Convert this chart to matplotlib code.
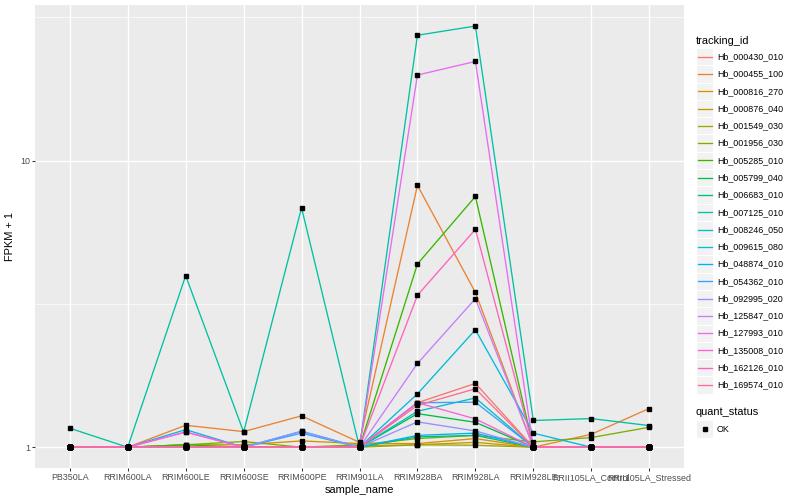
import numpy as np
import matplotlib
matplotlib.use('Agg')
import matplotlib.pyplot as plt
from matplotlib.patches import Rectangle

plt.rcParams['font.family'] = ['Liberation Sans', 'DejaVu Sans']

samples = ['PB350LA', 'RRIM600LA', 'RRIM600LE', 'RRIM600SE', 'RRIM600PE', 'RRIM901LA',
           'RRIM928BA', 'RRIM928LA', 'RRIM928LE', 'RRII105LA_Control', 'RRII105LA_Stressed']

genes = ['Hb_000430_010', 'Hb_000455_100', 'Hb_000816_270', 'Hb_000876_040', 'Hb_001549_030',
         'Hb_001956_030', 'Hb_005285_010', 'Hb_005799_040', 'Hb_006683_010', 'Hb_007125_010',
         'Hb_008246_050', 'Hb_009615_080', 'Hb_048874_010', 'Hb_054362_010', 'Hb_092995_020',
         'Hb_125847_010', 'Hb_127993_010', 'Hb_135008_010', 'Hb_162126_010', 'Hb_169574_010']

# FPKM + 1 per gene, one value per sample
fpkm = [
    [1, 1, 1, 1, 1, 1.0, 1.43, 1.67, 1, 1, 1],
    [1, 1, 1.193, 1.134, 1.287, 1.04, 8.2, 3.47, 1, 1.11, 1.365],
    [1, 1, 1.02, 1.02, 1.052, 1.03, 1.03, 1.072, 1, 1, 1],
    [1, 1, 1, 1, 1, 1.01, 1.02, 1.04, 1, 1, 1],
    [1, 1, 1, 1, 1, 1, 1.02, 1.016, 1, 1, 1],
    [1, 1, 1.02, 1.047, 1, 1.02, 1.072, 1.10, 1.044, 1.081, 1.174],
    [1, 1, 1.02, 1, 1, 1, 4.36, 7.5, 1, 1, 1],
    [1, 1, 1, 1, 1, 1, 1.31, 1.222, 1, 1, 1],
    [1, 1, 1, 1, 1, 1, 1.087, 1.10, 1, 1, 1],
    [1.165, 1, 3.97, 1.13, 6.85, 1, 27.4, 29.5, 1.24, 1.259, 1.19],
    [1, 1, 1, 1, 1, 1, 1.335, 1.486, 1, 1, 1],
    [1, 1, 1.152, 1, 1.137, 1, 1.535, 2.57, 1.12, 1, 1],
    [1, 1, 1, 1, 1, 1, 1.10, 1.12, 1, 1, 1],
    [1, 1, 1, 1, 1.12, 1, 1.43, 1.436, 1, 1, 1],
    [1, 1, 1, 1, 1.137, 1, 1.226, 1.14, 1, 1, 1],
    [1, 1, 1, 1, 1, 1, 1.96, 3.30, 1, 1, 1],
    [1, 1, 1.13, 1, 1, 1, 19.9, 22.2, 1, 1, 1],
    [1, 1, 1.13, 1, 1, 1, 1.43, 1.256, 1, 1, 1],
    [1, 1, 1, 1, 1, 1, 3.39, 5.76, 1, 1, 1],
    [1, 1, 1, 1, 1, 1, 1.40, 1.60, 1, 1, 1],
]

colors = ['#F8766D', '#EA8331', '#D89000', '#C09B00', '#A3A500', '#7CAE00', '#39B600',
          '#00BB4E', '#00BF7D', '#00C1A3', '#00BFC4', '#00BAE0', '#00B0F6', '#35A2FF',
          '#9590FF', '#C77CFF', '#E76BF3', '#FA62DB', '#FF62BC', '#FF6C91']

W, H = 800, 500
fig = plt.figure(figsize=(8, 5), dpi=100)
fig.patch.set_facecolor('white')

pl, pr, pt, pb = 35, 684, 5, 468.3
ax = fig.add_axes([pl / W, (H - pb) / H, (pr - pl) / W, (pb - pt) / H])
ax.set_facecolor('#EBEBEB')
for s in ax.spines.values():
    s.set_visible(False)

x = np.arange(len(samples))
data = np.array(fpkm)
for i, g in enumerate(genes):
    ax.plot(x, data[i], color=colors[i], lw=0.95, zorder=3)
for i, g in enumerate(genes):
    ax.plot(x, data[i], ls='none', marker='s', ms=3, color='black', zorder=4)

ax.set_yscale('log')
lo, hi = np.log10(data.min()), np.log10(data.max())
pad = (hi - lo) * 0.05
ax.set_ylim(10 ** (lo - pad), 10 ** (hi + pad))
ax.set_xlim(-0.6, len(samples) - 0.4)

ax.set_yticks([1, 10])
ax.set_yticklabels(['1', '10'])
ax.set_yticks([10 ** 0.5, 10 ** 1.5], minor=True)
ax.yaxis.set_minor_formatter(plt.NullFormatter())
ax.set_xticks(x)
ax.set_xticklabels(samples)

ax.grid(which='major', color='white', lw=1.0, zorder=1)
ax.grid(which='minor', axis='y', color='white', lw=0.5, zorder=1)
ax.set_axisbelow(True)
ax.tick_params(which='major', length=2, width=0.75, color='#333333',
               labelsize=6.4, labelcolor='#4D4D4D', pad=1.5)
ax.tick_params(which='minor', length=0)

ax.set_xlabel('sample_name', fontsize=7.9, labelpad=2)
ax.set_ylabel('FPKM + 1', fontsize=7.9, labelpad=4)

# legend drawn in pixel coordinates
lg = fig.add_axes([0, 0, 1, 1])
lg.set_xlim(0, W)
lg.set_ylim(H, 0)
lg.axis('off')

key = 17.28
kx = 696
lg.text(kx, 40.7, 'tracking_id', fontsize=7.9, va='center', ha='left')
y0 = 56.7
for i, g in enumerate(genes):
    yc = y0 + i * key
    lg.add_patch(Rectangle((kx, yc - key / 2), key, key, facecolor='#F2F2F2',
                           edgecolor='white', lw=0.8))
    lg.plot([kx + 1.7, kx + key - 1.7], [yc, yc], color=colors[i], lw=0.95)
    lg.text(kx + key + 3.5, yc, g, fontsize=6.4, va='center', ha='left')

lg.text(kx, 411.7, 'quant_status', fontsize=7.9, va='center', ha='left')
yc = 429
lg.add_patch(Rectangle((kx, yc - key / 2), key, key, facecolor='#F2F2F2',
                       edgecolor='white', lw=0.8))
lg.plot([kx + key / 2], [yc], marker='s', ms=3, color='black')
lg.text(kx + key + 3.5, yc, 'OK', fontsize=6.4, va='center', ha='left')

fig.savefig('out.png', dpi=100)
